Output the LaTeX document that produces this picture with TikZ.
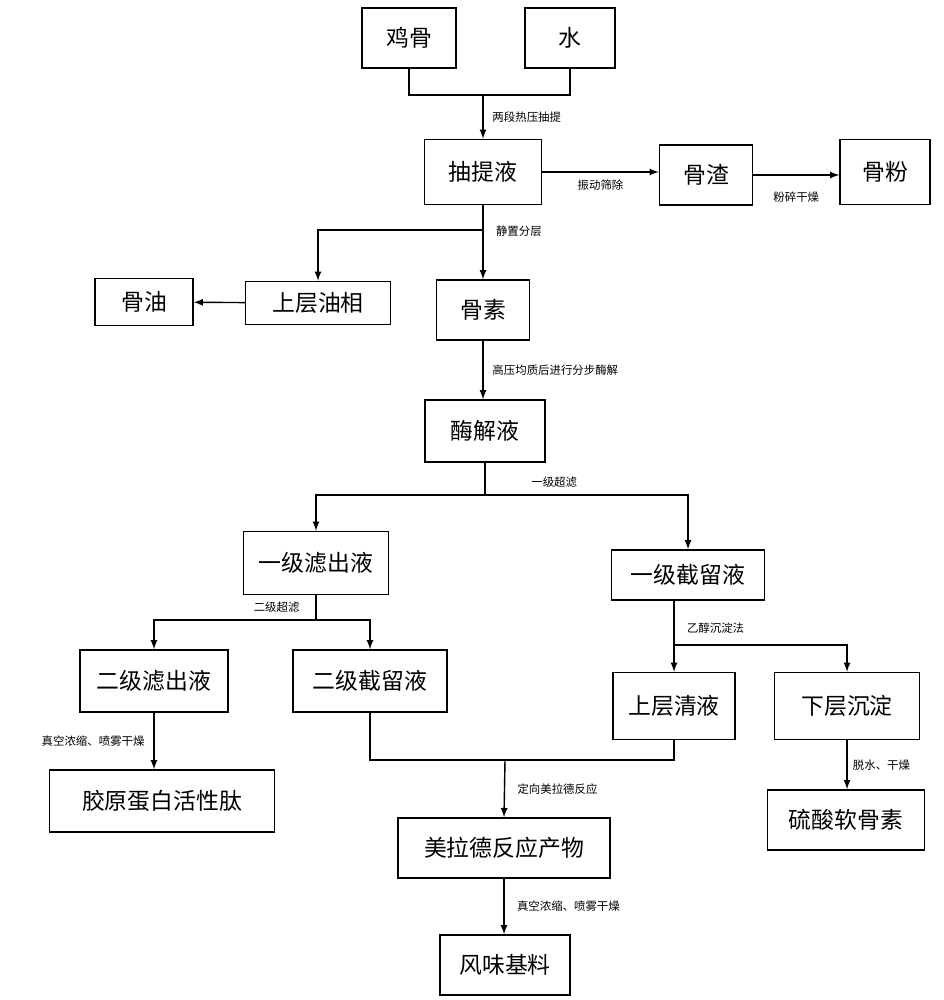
\documentclass[tikz,border=0pt]{standalone}
\usepackage{fontspec}
\setmainfont{Noto Sans CJK SC}
\begin{document}
\begin{tikzpicture}[x=0.02cm,y=-0.02cm,
box/.style 2 args={draw,thick,minimum width=#1*0.02cm,minimum height=#2*0.02cm,inner sep=0pt,font=\fontsize{13}{15}\selectfont},
lab/.style={font=\fontsize{6.5}{8}\selectfont,inner sep=1pt},
arr/.style={->,>=latex,thick}]
\useasboundingbox (0,0) rectangle (943,1000);
% boxes
\node[box={94}{60}] (jigu) at (409,38) {鸡骨};
\node[box={90}{60}] (shui) at (570,38) {水};
\node[box={117}{65}] (ctye) at (483,172) {抽提液};
\node[box={93}{60}] (guzha) at (706,175) {骨渣};
\node[box={90}{65}] (gufen) at (885,172) {骨粉};
\node[box={98}{47}] (guyou) at (144,302) {骨油};
\node[box={145}{43}] (youxiang) at (318,303) {上层油相};
\node[box={93}{60}] (gusu) at (483,310) {骨素};
\node[box={120}{62}] (mjye) at (485,431) {酶解液};
\node[box={145}{63}] (lvchu1) at (316,563) {一级滤出液};
\node[box={153}{50}] (jieliu1) at (688,575) {一级截留液};
\node[box={148}{62}] (lvchu2) at (154,681) {二级滤出液};
\node[box={154}{62}] (jieliu2) at (370,681) {二级截留液};
\node[box={122}{67}] (qingye) at (674,706) {上层清液};
\node[box={145}{67}] (chendian) at (847,706) {下层沉淀};
\node[box={225}{62}] (tai) at (162,801) {胶原蛋白活性肽};
\node[box={212}{60}] (mld) at (504,848) {美拉德反应产物};
\node[box={157}{60}] (rgs) at (846,820) {硫酸软骨素};
\node[box={130}{60}] (jiliao) at (505,965) {风味基料};
% branch points
\coordinate (c1) at (483,95);
\coordinate (c2) at (483,230);
\coordinate (c3) at (485,495);
\coordinate (c4) at (316,620);
\coordinate (c5) at (674,645);
\coordinate (c6) at (505,760);
% connectors
\draw[thick] (jigu.south) |- (c1) -| (shui.south);
\draw[arr] (c1) -- (ctye.north) node[lab,midway,right=4pt]{两段热压抽提};
\draw[arr] (ctye.east) -- (ctye.east -| guzha.west) node[lab,midway,below=3pt]{振动筛除};
\draw[arr] (guzha.east) -- (guzha.east -| gufen.west) node[lab,midway,below=8pt]{粉碎干燥};
\draw[arr] (ctye.south) -- (gusu.north) node[lab,pos=0.35,right=6pt]{静置分层};
\draw[arr] (c2) -| (youxiang.north);
\draw[arr] (youxiang) -- (guyou);
\draw[arr] (gusu.south) -- (mjye.north -| gusu.south) node[lab,midway,right=4pt]{高压均质后进行分步酶解};
\draw[thick] (mjye.south) -- (c3) node[lab,midway,right=25pt,yshift=-2pt]{一级超滤};
\draw[arr] (c3) -| (lvchu1.north);
\draw[arr] (c3) -| (jieliu1.north);
\draw[thick] (lvchu1.south) -- (c4) node[lab,midway,left=8pt]{二级超滤};
\draw[arr] (c4) -| (lvchu2.north);
\draw[arr] (c4) -| (jieliu2.north);
\draw[thick] (jieliu1.south -| c5) -- (c5) node[lab,midway,right=6pt,yshift=-3pt]{乙醇沉淀法};
\draw[arr] (c5) -- (qingye.north);
\draw[arr] (c5) -| (chendian.north);
\draw[arr] (lvchu2.south) -- (lvchu2.south |- tai.north) node[lab,midway,left=4pt]{真空浓缩、喷雾干燥};
\draw[thick] (jieliu2.south) |- (c6) -| (qingye.south);
\draw[arr] (c6) -- (mld.north) node[lab,midway,right=6pt]{定向美拉德反应};
\draw[arr] (chendian.south) -- (rgs.north -| chendian.south) node[lab,midway,right=2pt]{脱水、干燥};
\draw[arr] (mld.south) -- (jiliao.north -| mld.south) node[lab,midway,right=6pt]{真空浓缩、喷雾干燥};
\end{tikzpicture}
\end{document}
